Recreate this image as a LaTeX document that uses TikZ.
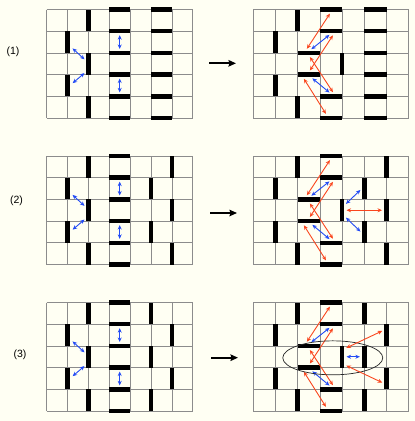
\documentclass[tikz,border=0pt]{standalone}
\usepackage{fontspec}
\setsansfont{Liberation Sans}
\usetikzlibrary{arrows.meta}
\definecolor{paper}{RGB}{255,255,243}
\definecolor{gridgray}{RGB}{140,140,140}
\definecolor{pairblue}{RGB}{35,75,245}
\definecolor{pairred}{RGB}{250,70,30}

\begin{document}
\begin{tikzpicture}[x=1pt,y=-1pt,line join=round,
 gridline/.style={gridgray,line width=.7pt},
 vbar/.style={fill=black,inner sep=0pt,minimum width=4.5pt,minimum height=21.7pt},
 hbar/.style={fill=black,inner sep=0pt,minimum width=\cellw,minimum height=4.5pt},
 pairline/.style={line width=.9pt,{Stealth[length=4.5pt,width=4pt]}-{Stealth[length=4.5pt,width=4pt]},shorten <=2pt,shorten >=2pt},
 blue pair/.style={pairline,pairblue},
 red pair/.style={pairline,pairred},
 stepto/.style={line width=1.8pt,-{Stealth[length=7.5pt,width=6.5pt,inset=1pt]}},
 tag/.style={font=\sffamily\fontsize{10.5}{12}\selectfont},
 leftgrid/.code={\tikzset{shift={(46.7,#1)},x=20.86pt,y=-21.7pt}\def\cellw{20.86pt}},
 rightgrid/.code={\tikzset{shift={(253.3,#1)},x=22.2pt,y=-21.7pt}\def\cellw{22.2pt}}]
 \fill[paper] (0,0) rectangle (415,421);
 \useasboundingbox (0,0) rectangle (415,421);

 % left grids
 \foreach \p/\yy in {A/9.5,B/156,C/302.5}{
  \begin{scope}[leftgrid=\yy]
   \foreach \i in {0,...,7} \draw[gridline] (\i,0) -- (\i,5);
   \foreach \j in {0,...,5} \draw[gridline] (0,\j) -- (7,\j);
   \foreach \i/\k in {2/0,1/1,2/2,1/3,2/4} \node[vbar] (\p Lv\i\k) at (\i,\k+.5) {};
   \foreach \j in {0,...,5} \node[hbar] (\p Lh3\j) at (3.5,\j) {};
  \end{scope}
  \draw[blue pair,shorten <=3.5pt] ([yshift=-4pt]\p Lv11.east) -- ([yshift=3pt]\p Lv22.west);
  \draw[blue pair,shorten <=3.5pt] (\p Lv13.east) -- ([yshift=-8pt]\p Lv22.west);
  \draw[blue pair,shorten <=1.5pt,shorten >=1.5pt] (\p Lh31) -- (\p Lh32);
  \draw[blue pair,shorten <=1.5pt,shorten >=1.5pt] (\p Lh33) -- (\p Lh34);
 }
 \begin{scope}[leftgrid=9.5]
  \foreach \j in {0,...,5} \node[hbar] (ALh5\j) at (5.5,\j) {};
 \end{scope}
 \begin{scope}[leftgrid=156]
  \foreach \i/\k in {6/0,5/1,6/2,5/3,6/4} \node[vbar] (BLv\i\k) at (\i,\k+.5) {};
 \end{scope}
 \begin{scope}[leftgrid=302.5]
  \foreach \i/\k in {5/0,6/1,5/2,6/3,5/4} \node[vbar] (CLv\i\k) at (\i,\k+.5) {};
 \end{scope}

 % right grids
 \foreach \p/\yy in {A/9.5,B/156,C/302.5}{
  \begin{scope}[rightgrid=\yy]
   \foreach \i in {0,...,7} \draw[gridline] (\i,0) -- (\i,5);
   \foreach \j in {0,...,5} \draw[gridline] (0,\j) -- (7,\j);
   \foreach \i/\k in {2/0,1/1,1/3,2/4,4/2} \node[vbar] (\p Rv\i\k) at (\i,\k+.5) {};
   \foreach \i/\j in {2/2,2/3,3/0,3/1,3/4,3/5} \node[hbar] (\p Rh\i\j) at (\i+.5,\j) {};
  \end{scope}
  \draw[red pair] ([xshift=-3pt]\p Rh22.north) -- (\p Rh30.south);
  \draw[red pair] (\p Rh23.north) -- ([xshift=3pt]\p Rh31.south);
  \draw[red pair] (\p Rh22.south) -- ([xshift=3pt]\p Rh34.north);
  \draw[red pair] ([xshift=-6pt]\p Rh23.south) -- ([xshift=-4pt]\p Rh35.north);
  \draw[blue pair] ([xshift=1pt]\p Rh22.north) -- (\p Rh31.south);
  \draw[blue pair] ([xshift=2pt]\p Rh23.south) -- (\p Rh34.north);
 }
 \begin{scope}[rightgrid=9.5]
  \foreach \j in {0,...,5} \node[hbar] (ARh5\j) at (5.5,\j) {};
 \end{scope}
 \begin{scope}[rightgrid=156]
  \foreach \i/\k in {6/0,5/1,6/2,5/3,6/4} \node[vbar] (BRv\i\k) at (\i,\k+.5) {};
 \end{scope}
 \begin{scope}[rightgrid=302.5]
  \foreach \i/\k in {5/0,6/1,5/2,6/3,5/4} \node[vbar] (CRv\i\k) at (\i,\k+.5) {};
  \draw[black!85,line width=.7pt] (3.58,2.55) ellipse [x radius=50pt,y radius=17pt];
 \end{scope}
 \draw[red pair] (BRv42.east) -- (BRv62.west);
 \draw[blue pair] ([yshift=5pt]BRv42.east) -- (BRv51.west);
 \draw[blue pair] ([yshift=-6pt]BRv42.east) -- ([yshift=-1pt]BRv53.west);
 \draw[blue pair] (CRv42.east) -- (CRv52.west);
 \draw[red pair] ([yshift=8pt]CRv42.east) -- ([yshift=5pt]CRv61.west);
 \draw[red pair] ([yshift=-8pt]CRv42.east) -- ([yshift=-5pt]CRv63.west);

 % labels and steps
 \node[tag] (tag1) at (13,52) {(1)};
 \node[tag] (tag2) at (16.5,201) {(2)};
 \node[tag] (tag3) at (20,354.5) {(3)};
 \foreach \k/\xa/\yy in {1/209/63.3,2/210/213,3/211/357.7}{
  \coordinate (from\k) at (\xa,\yy);
  \coordinate (to\k) at (\xa+27,\yy);
  \draw[stepto] (from\k) -- (to\k);
 }
\end{tikzpicture}
\end{document}
